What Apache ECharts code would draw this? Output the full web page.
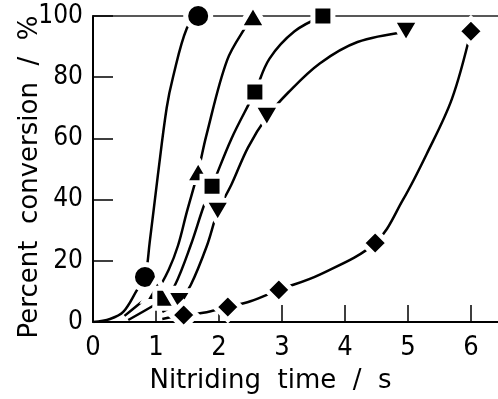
<!DOCTYPE html>
<html>
<head>
<meta charset="utf-8">
<script src="https://cdn.jsdelivr.net/npm/echarts@6/dist/echarts.min.js"></script>
<style>
html,body{margin:0;padding:0;background:#fff;}
#c{width:498px;height:399px;}
</style>
</head>
<body>
<div id="c"></div>
<script>
// ---- data ----
const xTickValues = [0, 1, 2, 3, 4, 5, 6];
const yTickValues = [0, 20, 40, 60, 80, 100];

// measured points (markers)
const circlePts   = [[0.825, 14.7], [1.67, 100]];
const triUpPts    = [[1.02, 10.5], [1.67, 49.3], [2.54, 100]];
const squarePts   = [[1.14, 7.8], [1.89, 44.4], [2.57, 75.2], [3.65, 100]];
const triDownPts  = [[1.37, 6.5], [1.98, 36], [2.76, 67], [4.97, 94.8]];
const diamondPts  = [[1.44, 2.3], [2.14, 4.9], [2.95, 10.5], [4.48, 25.8], [6.0, 95]];

// points
const circleCurve  = [[0, 0], [0.27, 1], [0.48, 3.3], [0.70, 10.5], [0.9, 26], [1.03, 48], [1.17, 70], [1.27, 80], [1.49, 96]];
const triUpCurve   = [[0.5, 2], [0.87, 8.2], [1.20, 17], [1.35, 25], [1.49, 36], [1.80, 61], [2.13, 85.6], [2.44, 97]];
const squareCurve  = [[0.56, 0.65], [1.03, 6.2], [1.30, 12], [1.55, 25], [1.76, 38], [2.20, 60], [2.80, 86], [3.20, 95]];
const triDownCurve = [[1.10, 3.3], [1.22, 4.6], [1.55, 12], [1.81, 25], [2.20, 45], [2.46, 57], [3.10, 75], [3.60, 84.5], [4.20, 91.5]];
const diamondCurve = [[1.10, 1], [1.25, 1.6], [1.75, 3.0], [2.5, 6.8], [3.60, 15.5], [4.92, 39.9], [5.30, 55], [5.70, 73]];

const xMax = 6.43;

function merge(curve, pts) {
  return curve.concat(pts).sort((a, b) => a[0] - b[0]);
}

const groups = [
  { name: 'circle',   curve: circleCurve,  pts: circlePts,  symbol: 'circle',   size: 25, rot: 0 },
  { name: 'triangle', curve: triUpCurve,   pts: triUpPts,   symbol: 'triangle', size: [27, 23], rot: 0 },
  { name: 'square',   curve: squareCurve,  pts: squarePts,  symbol: 'rect',     size: 20, rot: 0 },
  { name: 'invTriangle', curve: triDownCurve, pts: triDownPts, symbol: 'triangle', size: [27, 23], rot: 180 },
  { name: 'diamond',  curve: diamondCurve, pts: diamondPts, symbol: 'diamond',  size: 26, rot: 0 }
];

const series = [];
groups.forEach(g => {
  series.push({
    type: 'line',
    name: g.name + ' fit',
    data: merge(g.curve, g.pts),
    smooth: 0.35,
    showSymbol: false,
    symbol: 'none',
    lineStyle: { color: '#000', width: 2.5 },
    z: 2,
    silent: true,
    animation: false
  });
});
groups.forEach(g => {
  series.push({
    type: 'scatter',
    name: g.name,
    data: g.pts,
    symbol: g.symbol,
    symbolSize: g.size,
    symbolRotate: g.rot,
    itemStyle: { color: '#000', borderColor: '#fff', borderWidth: 5, opacity: 1 },
    z: 5,
    silent: true,
    animation: false
  });
});

const numFont = '"DejaVu Sans Condensed", "DejaVu Sans", sans-serif';

const chart = echarts.init(document.getElementById('c'), null, { renderer: 'canvas' });
chart.setOption({
  backgroundColor: '#fff',
  animation: false,
  grid: { left: 93, right: 0, top: 16, bottom: 77, containLabel: false },
  xAxis: [{
    type: 'value',
    min: 0, max: xMax, interval: 1,
    name: 'Nitriding  time  /  s',
    nameLocation: 'middle',
    nameGap: 46,
    nameMoveOverlap: false,
    nameTextStyle: { fontFamily: 'DejaVu Sans', fontSize: 26, color: '#000', padding: [0, 50, 0, 0] },
    axisLine: { show: true, lineStyle: { color: '#000', width: 2 } },
    axisTick: { show: true, inside: true, length: 17, lineStyle: { color: '#000', width: 1.5 }, customValues: xTickValues },
    axisLabel: { show: true, margin: 12, fontFamily: numFont, fontSize: 27, color: '#000', customValues: xTickValues },
    splitLine: { show: false }
  }, {
    type: 'value',
    position: 'top',
    min: 0, max: xMax,
    axisLine: { show: true, lineStyle: { color: '#222', width: 1.5 } },
    axisTick: { show: false },
    axisLabel: { show: false },
    splitLine: { show: false }
  }],
  yAxis: {
    type: 'value',
    min: 0, max: 100, interval: 20,
    name: 'Percent  conversion  /  %',
    nameLocation: 'middle',
    nameGap: 50,
    nameRotate: 90,
    nameMoveOverlap: false,
    nameTextStyle: { fontFamily: 'DejaVu Sans', fontSize: 26, color: '#000', padding: [0, 16, 0, 0] },
    axisLine: { show: true, lineStyle: { color: '#000', width: 2 } },
    axisTick: { show: true, inside: true, length: 20, lineStyle: { color: '#000', width: 1.5 } },
    axisLabel: { show: true, margin: 10, fontFamily: numFont, fontSize: 26, color: '#000', padding: [4, 0, 0, 0], customValues: yTickValues },
    splitLine: { show: false }
  },
  series: series
});
</script>
</body>
</html>
